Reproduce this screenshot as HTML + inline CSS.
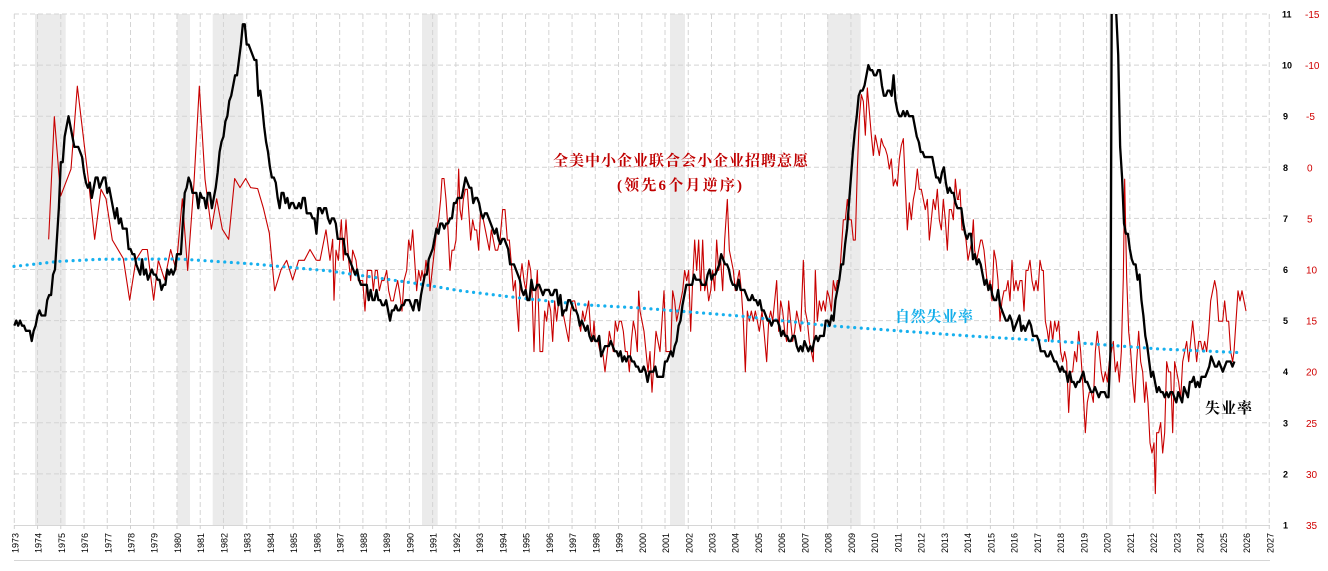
<!DOCTYPE html>
<html><head><meta charset="utf-8"><style>
html,body{margin:0;padding:0;background:#fff;}
svg{display:block;}
.yl{font-family:"Liberation Sans",sans-serif;font-size:9px;fill:#000;}
.rb{font-family:"Liberation Sans",sans-serif;font-size:9px;font-weight:bold;fill:#000;}
.rr{font-family:"Liberation Sans",sans-serif;font-size:10px;fill:#d00000;}
.cn{font-family:"Liberation Serif","Noto Serif CJK SC",serif;font-weight:bold;font-size:15px;}
</style></head><body>
<svg width="1328" height="571" viewBox="0 0 1328 571" xmlns="http://www.w3.org/2000/svg">
<defs><clipPath id="plot"><rect x="0" y="14" width="1328" height="511"/></clipPath></defs>
<rect width="1328" height="571" fill="#fff"/>
<!-- recessions -->
<g fill="#ebebeb">
<rect x="35" y="14" width="30.7" height="511"/>
<rect x="177.3" y="14" width="12.7" height="511"/>
<rect x="212.7" y="14" width="30.6" height="511"/>
<rect x="422" y="14" width="15.7" height="511"/>
<rect x="670" y="14" width="15" height="511"/>
<rect x="827.3" y="14" width="33.4" height="511"/>
<rect x="1109" y="14" width="3.7" height="511"/>
</g>
<!-- grid -->
<path fill="none" stroke="#d4d4d4" stroke-width="1" stroke-dasharray="5,3" d="M14 14H1270M14 65.1H1270M14 116.2H1270M14 167.3H1270M14 218.4H1270M14 269.5H1270M14 320.6H1270M14 371.7H1270M14 422.8H1270M14 473.9H1270
M14.3 14V525M37.54 14V525M60.78 14V525M84.02 14V525M107.26 14V525M130.5 14V525M153.74 14V525M176.98 14V525M200.22 14V525M223.46 14V525M246.7 14V525M269.94 14V525M293.18 14V525M316.42 14V525M339.66 14V525M362.9 14V525M386.14 14V525M409.38 14V525M432.62 14V525M455.86 14V525M479.1 14V525M502.34 14V525M525.58 14V525M548.82 14V525M572.06 14V525M595.3 14V525M618.54 14V525M641.78 14V525M665.02 14V525M688.26 14V525M711.5 14V525M734.74 14V525M757.98 14V525M781.22 14V525M804.46 14V525M827.7 14V525M850.94 14V525M874.18 14V525M897.42 14V525M920.66 14V525M943.9 14V525M967.14 14V525M990.38 14V525M1013.62 14V525M1036.86 14V525M1060.1 14V525M1083.34 14V525M1106.58 14V525M1129.82 14V525M1153.06 14V525M1176.3 14V525M1199.54 14V525M1222.78 14V525M1246.02 14V525M1269.26 14V525"/>
<!-- axis lines -->
<path d="M14 525.5H1270M14 560.5H1270" stroke="#d6d6d6" stroke-width="1" fill="none"/>
<path fill="none" stroke="#cfcfcf" stroke-width="1" d="M14.3 525V529M37.54 525V529M60.78 525V529M84.02 525V529M107.26 525V529M130.5 525V529M153.74 525V529M176.98 525V529M200.22 525V529M223.46 525V529M246.7 525V529M269.94 525V529M293.18 525V529M316.42 525V529M339.66 525V529M362.9 525V529M386.14 525V529M409.38 525V529M432.62 525V529M455.86 525V529M479.1 525V529M502.34 525V529M525.58 525V529M548.82 525V529M572.06 525V529M595.3 525V529M618.54 525V529M641.78 525V529M665.02 525V529M688.26 525V529M711.5 525V529M734.74 525V529M757.98 525V529M781.22 525V529M804.46 525V529M827.7 525V529M850.94 525V529M874.18 525V529M897.42 525V529M920.66 525V529M943.9 525V529M967.14 525V529M990.38 525V529M1013.62 525V529M1036.86 525V529M1060.1 525V529M1083.34 525V529M1106.58 525V529M1129.82 525V529M1153.06 525V529M1176.3 525V529M1199.54 525V529M1222.78 525V529M1246.02 525V529M1269.26 525V529"/>

<!-- red NFIB hiring plans -->
<g fill="none" stroke="#c80000" stroke-width="1.1" stroke-linejoin="round">
<polyline vector-effect="non-scaling-stroke" transform="matrix(0.33333 0 0 0.33807 0 0)" points="146,708 163,345 182,580 213,500 232,255 265,530 284,708 303,560 318,588 337,710 370,765 389,888 408,768 427,738 442,738 461,888 475,770 494,828 512,738 528,798 547,588 563,800 582,540 598,255 615,530 634,678 650,588 667,678 686,708 704,528 720,555 737,528 752,555 773,558 790,615 808,690 824,860 843,798 860,770 878,828 896,770 913,770 930,738 949,770"/>
<polyline vector-effect="non-scaling-stroke" transform="matrix(0.33333 0 0 0.33807 320 0)" points="-11,770 0,770 18,680 30,770 38,708 42,888 48,740 55,770 64,650 70,770 78,650 86,770 92,830 98,740 108,770 115,830 122,830 128,830 135,920 142,800 155,800 160,860 166,800 172,800 178,860 185,830 192,830 200,800 206,860 213,890 220,890 226,860 233,830 238,860 246,920 252,830 260,800 266,710 272,740 278,680 284,770 290,860 296,800 302,830 306,800 312,830 318,770 322,800 326,770 330,860 340,770 350,680 356,650 362,590 366,528 372,528 378,590 384,680 390,800 396,740 402,740 408,710 413,590 416,500 420,620 425,650 430,590 436,560 442,560 446,620 452,710 458,650 464,680 470,680 476,740 482,620 490,650 496,680 502,710 508,740 514,680 520,710 526,740 533,740 540,710 548,620 555,620 562,710 568,710 574,780 580,860 586,830 590,900 596,980 600,830 606,780 612,830 618,860 626,770 632,800 636,860 642,1040 648,860 652,800 656,920 660,1040 668,1040 674,920 680,950 686,890 692,920 698,1010 704,890 710,950 716,890 722,890 728,920 734,950 740,980 746,1010 752,920 758,890 764,890 770,920 776,950 782,980 788,920 794,950 800,920 806,890 812,980 818,1010 822,950 826,1010 834,1010 840,1040 848,1040 855,1100 862,1040 868,980 874,1010 880,1040 886,950 892,980 898,950 904,950 910,980 916,1040 922,1040 928,1100 934,1010 940,950 946,980 952,1040 956,860"/>
<polyline vector-effect="non-scaling-stroke" transform="matrix(0.33333 0 0 0.33807 640 0)" points="-4,860 0,920 6,950 12,980 18,1040 24,1100 30,1040 36,1160 42,1070 48,980 54,1010 60,1040 66,950 72,860 78,1040 84,1040 92,1040 98,860 104,890 110,950 116,920 122,890 128,860 134,800 140,830 146,800 152,980 158,830 164,710 170,800 176,710 182,860 188,710 194,860 200,830 206,890 212,860 218,800 224,860 230,710 236,800 242,770 248,860 254,710 262,590 268,740 274,770 280,800 286,860 292,830 298,800 304,860 310,950 316,1100 322,920 328,950 334,920 340,950 346,920 352,950 358,980 366,920 372,980 380,1070 386,950 392,920 398,950 404,890 410,830 416,980 422,890 428,920 434,980 440,1010 446,890 452,950 458,1010 464,980 470,920 476,950 482,980 490,770 496,920 502,950 508,1010 514,1040 520,1070 526,800 532,950 538,890 544,920 550,890 556,920 562,860 568,880 574,920 580,830 586,860 592,830 598,830 604,740 610,650 616,650 622,590 628,650 634,650 640,710 646,710 652,500 658,350 664,280 670,300 676,400 682,260 688,330 694,400 700,460 706,400 712,430 718,460 724,410 730,430 736,440 742,460 748,500 754,470 760,550 766,530 772,550 778,470 784,430 790,410 796,550 802,680 808,600 814,650 820,590 826,560 832,500 838,560 844,560 850,590 856,620 862,590 868,710 874,650 880,590 886,620 892,560 898,650 904,680 910,590 916,650 922,740 928,620 934,620 940,650 946,530 952,590 958,590"/>
<polyline vector-effect="non-scaling-stroke" transform="matrix(0.33333 0 0 0.33807 960 0)" points="-6,590 0,560 6,680 12,680 18,710 24,770 30,740 36,710 40,650 44,740 50,770 56,740 62,710 66,710 72,740 78,800 84,860 90,830 96,890 102,740 108,770 114,830 120,950 126,890 132,860 138,860 144,830 150,890 156,770 162,860 168,830 174,860 180,830 186,830 192,920 198,800 204,800 210,770 216,830 222,860 228,830 234,860 240,770 246,800 250,800 256,950 262,980 266,1010 272,950 278,1010 284,950 290,980 296,950 302,1040 308,1070 314,1040 320,1070 326,1220 332,1100 338,1100 344,1040 350,1070 356,980 362,1040 368,1130 376,1280 382,1190 388,1160 394,1160 400,1190 406,1040 412,980 418,1040 424,1100 430,1130 436,1100 442,1130 448,1070 454,1040 460,1010 466,1100 472,1070 478,1130 484,1040 490,820 494,530 500,820 506,980 512,1040 518,1130 524,1190 530,1070 536,980 542,1070 548,1100 554,1190 558,1130 564,1190 570,1310 576,1340 582,1310 586,1460 590,1280 596,1280 602,1250 608,1340 614,1280 620,1070 626,1100 632,1100 638,1280 644,1070 650,1100 656,1130 662,1180 668,1070 674,1040 680,1010 686,1070 692,1010 698,950 704,1010 710,1070 716,1010 722,1010 728,1040 734,1010 740,1040 746,980 752,890 758,860 764,830 770,860 776,950 782,950 788,950 794,890 800,950 806,950 812,1040 818,1070 822,1040 828,950 834,860 840,890 846,860 852,890 858,920"/>
</g>

<!-- natural rate dotted -->
<polyline fill="none" stroke="#16b0ee" stroke-width="3.2" stroke-linecap="round" stroke-dasharray="0 6.6" points="14,266.4 60,261.3 100,259.3 180,259 250,263.7 330,271 420,284 460,290.7 520,298 587,305 640,308 740,316 827,325.6 970,336 1060,341.5 1160,349 1240,352.6"/>

<!-- unemployment -->
<g clip-path="url(#plot)">
<polyline fill="none" stroke="#000" stroke-width="2.3" stroke-linejoin="round" vector-effect="non-scaling-stroke" transform="matrix(1.93667 0 0 -51.1 14.3 576.1)" points="0,4.9 1,5 2,4.9 3,5 4,4.9 5,4.9 6,4.8 7,4.8 8,4.8 9,4.6 10,4.8 11,4.9 12,5.1 13,5.2 14,5.1 15,5.1 16,5.1 17,5.4 18,5.5 19,5.5 20,5.9 21,6 22,6.6 23,7.2 24,8.1 25,8.1 26,8.6 27,8.8 28,9 29,8.8 30,8.6 31,8.4 32,8.4 33,8.4 34,8.3 35,8.2 36,7.9 37,7.7 38,7.6 39,7.7 40,7.4 41,7.6 42,7.8 43,7.8 44,7.6 45,7.7 46,7.8 47,7.8 48,7.5 49,7.6 50,7.4 51,7.2 52,7 53,7.2 54,6.9 55,7 56,6.8 57,6.8 58,6.8 59,6.4 60,6.4 61,6.3 62,6.3 63,6.1 64,6 65,5.9 66,6.2 67,5.9 68,6 69,5.8 70,5.9 71,6 72,5.9 73,5.9 74,5.8 75,5.8 76,5.6 77,5.7 78,5.7 79,6 80,5.9 81,6 82,5.9 83,6 84,6.3 85,6.3 86,6.3 87,6.9 88,7.5 89,7.6 90,7.8 91,7.7 92,7.5 93,7.5 94,7.5 95,7.2 96,7.5 97,7.4 98,7.4 99,7.2 100,7.5 101,7.5 102,7.2 103,7.4 104,7.6 105,7.9 106,8.3 107,8.5 108,8.6 109,8.9 110,9 111,9.3 112,9.4 113,9.6 114,9.8 115,9.8 116,10.1 117,10.4 118,10.8 119,10.8 120,10.4 121,10.4 122,10.3 123,10.2 124,10.1 125,10.1 126,9.4 127,9.5 128,9.2 129,8.8 130,8.5 131,8.3 132,8 133,7.8 134,7.8 135,7.7 136,7.4 137,7.2 138,7.5 139,7.5 140,7.3 141,7.4 142,7.2 143,7.3 144,7.3 145,7.2 146,7.2 147,7.3 148,7.2 149,7.4 150,7.4 151,7.1 152,7.1 153,7.1 154,7 155,7 156,6.7 157,7.2 158,7.2 159,7.1 160,7.2 161,7.2 162,7 163,6.9 164,7 165,7 166,6.9 167,6.6 168,6.6 169,6.6 170,6.6 171,6.3 172,6.3 173,6.2 174,6.1 175,6 176,5.9 177,6 178,5.8 179,5.7 180,5.7 181,5.7 182,5.7 183,5.4 184,5.6 185,5.4 186,5.4 187,5.6 188,5.4 189,5.4 190,5.3 191,5.3 192,5.4 193,5.2 194,5 195,5.2 196,5.2 197,5.3 198,5.2 199,5.2 200,5.3 201,5.3 202,5.4 203,5.4 204,5.4 205,5.3 206,5.2 207,5.4 208,5.4 209,5.2 210,5.5 211,5.7 212,5.9 213,5.9 214,6.2 215,6.3 216,6.4 217,6.6 218,6.8 219,6.7 220,6.9 221,6.9 222,6.8 223,6.9 224,6.9 225,7 226,7 227,7.3 228,7.3 229,7.4 230,7.4 231,7.4 232,7.6 233,7.8 234,7.7 235,7.6 236,7.6 237,7.3 238,7.4 239,7.4 240,7.3 241,7.1 242,7 243,7.1 244,7.1 245,7 246,6.9 247,6.8 248,6.7 249,6.8 250,6.6 251,6.5 252,6.6 253,6.6 254,6.5 255,6.4 256,6.1 257,6.1 258,6.1 259,6 260,5.9 261,5.8 262,5.6 263,5.5 264,5.6 265,5.4 266,5.4 267,5.8 268,5.6 269,5.6 270,5.7 271,5.7 272,5.6 273,5.5 274,5.6 275,5.6 276,5.6 277,5.5 278,5.5 279,5.6 280,5.6 281,5.3 282,5.5 283,5.1 284,5.2 285,5.2 286,5.4 287,5.4 288,5.3 289,5.2 290,5.2 291,5.1 292,4.9 293,5 294,4.9 295,4.8 296,4.9 297,4.7 298,4.6 299,4.7 300,4.6 301,4.6 302,4.7 303,4.3 304,4.4 305,4.5 306,4.5 307,4.5 308,4.6 309,4.5 310,4.4 311,4.4 312,4.3 313,4.4 314,4.2 315,4.3 316,4.2 317,4.3 318,4.3 319,4.2 320,4.2 321,4.1 322,4.1 323,4 324,4 325,4.1 326,4 327,3.8 328,4 329,4 330,4 331,4.1 332,3.9 333,3.9 334,3.9 335,3.9 336,4.2 337,4.2 338,4.3 339,4.4 340,4.3 341,4.5 342,4.6 343,4.9 344,5 345,5.3 346,5.5 347,5.7 348,5.7 349,5.7 350,5.7 351,5.9 352,5.8 353,5.8 354,5.8 355,5.7 356,5.7 357,5.7 358,5.9 359,6 360,5.8 361,5.9 362,5.9 363,6 364,6.1 365,6.3 366,6.2 367,6.1 368,6.1 369,6 370,5.8 371,5.7 372,5.7 373,5.6 374,5.8 375,5.6 376,5.6 377,5.6 378,5.5 379,5.4 380,5.4 381,5.5 382,5.4 383,5.4 384,5.3 385,5.4 386,5.2 387,5.2 388,5.1 389,5 390,5 391,4.9 392,5 393,5 394,5 395,4.9 396,4.7 397,4.8 398,4.7 399,4.7 400,4.6 401,4.6 402,4.7 403,4.7 404,4.5 405,4.4 406,4.5 407,4.4 408,4.6 409,4.5 410,4.4 411,4.5 412,4.4 413,4.6 414,4.7 415,4.6 416,4.7 417,4.7 418,4.7 419,5 420,5 421,4.9 422,5.1 423,5 424,5.4 425,5.6 426,5.8 427,6.1 428,6.1 429,6.5 430,6.8 431,7.3 432,7.8 433,8.3 434,8.7 435,9 436,9.4 437,9.5 438,9.5 439,9.6 440,9.8 441,10 442,9.9 443,9.9 444,9.8 445,9.8 446,9.9 447,9.9 448,9.6 449,9.4 450,9.4 451,9.5 452,9.5 453,9.4 454,9.8 455,9.3 456,9.1 457,9 458,9 459,9.1 460,9 461,9.1 462,9 463,9 464,9 465,8.8 466,8.6 467,8.5 468,8.3 469,8.3 470,8.2 471,8.2 472,8.2 473,8.2 474,8.2 475,8 476,7.8 477,7.8 478,7.7 479,7.9 480,8 481,7.7 482,7.5 483,7.6 484,7.5 485,7.5 486,7.3 487,7.2 488,7.2 489,7.2 490,6.9 491,6.7 492,6.6 493,6.7 494,6.7 495,6.2 496,6.3 497,6.1 498,6.2 499,6.1 500,5.9 501,5.7 502,5.8 503,5.6 504,5.7 505,5.5 506,5.4 507,5.4 508,5.6 509,5.3 510,5.2 511,5.1 512,5 513,5 514,5.1 515,5 516,4.8 517,4.9 518,5 519,5.1 520,4.8 521,4.9 522,4.8 523,4.9 524,5 525,4.9 526,4.7 527,4.7 528,4.7 529,4.6 530,4.4 531,4.4 532,4.4 533,4.3 534,4.3 535,4.4 536,4.3 537,4.2 538,4.2 539,4.1 540,4 541,4.1 542,4 543,4 544,3.8 545,4 546,3.8 547,3.8 548,3.7 549,3.8 550,3.8 551,3.9 552,4 553,3.8 554,3.8 555,3.7 556,3.6 557,3.6 558,3.7 559,3.6 560,3.5 561,3.6 562,3.6 563,3.6 564,3.5 565,3.5 566,4.4 567,14.8 568,13.2 569,11 570,10.2 571,8.4 572,7.8 573,6.9 574,6.7 575,6.7 576,6.4 577,6.2 578,6.1 579,6.1 580,5.8 581,5.9 582,5.4 583,5.1 584,4.7 585,4.5 586,4.2 587,3.9 588,4 589,3.8 590,3.6 591,3.7 592,3.6 593,3.6 594,3.5 595,3.6 596,3.5 597,3.6 598,3.6 599,3.5 600,3.4 601,3.6 602,3.5 603,3.4 604,3.7 605,3.6 606,3.5 607,3.8 608,3.8 609,3.9 610,3.7 611,3.8 612,3.7 613,3.9 614,3.9 615,3.9 616,4 617,4.1 618,4.3 619,4.2 620,4.1 621,4.1 622,4.2 623,4.1 624,4 625,4.1 626,4.2 627,4.2 628,4.2 629,4.1 630,4.2"/>
</g>

<!-- annotations -->
<text class="cn" x="553" y="165.5" fill="#c00000" textLength="255" lengthAdjust="spacing">全美中小企业联合会小企业招聘意愿</text>
<text class="cn" x="617" y="190" fill="#c00000" textLength="125" lengthAdjust="spacing">(领先6个月逆序)</text>
<text class="cn" x="895" y="321.5" fill="#12aeea" textLength="78" lengthAdjust="spacing">自然失业率</text>
<text class="cn" x="1205" y="413" fill="#000" textLength="47" lengthAdjust="spacing">失业率</text>

<!-- right axis labels -->
<g class="rb">
<text x="1282" y="17.5">11</text><text x="1282" y="68.6">10</text><text x="1283" y="119.7">9</text><text x="1283" y="170.8">8</text><text x="1283" y="221.9">7</text><text x="1283" y="273">6</text><text x="1283" y="324.1">5</text><text x="1283" y="375.2">4</text><text x="1283" y="426.3">3</text><text x="1283" y="477.4">2</text><text x="1283" y="528.5">1</text>
</g>
<g class="rr">
<text x="1305" y="18">-15</text><text x="1305" y="69.1">-10</text><text x="1306" y="120.2">-5</text><text x="1307" y="171.3">0</text><text x="1307" y="222.4">5</text><text x="1306" y="273.5">10</text><text x="1306" y="324.6">15</text><text x="1306" y="375.7">20</text><text x="1306" y="426.8">25</text><text x="1306" y="477.9">30</text><text x="1306" y="529">35</text>
</g>

<!-- year labels -->
<g class="yl" text-anchor="end">
<text transform="translate(18.3,533) rotate(-90)">1973</text>
<text transform="translate(41.54,533) rotate(-90)">1974</text>
<text transform="translate(64.78,533) rotate(-90)">1975</text>
<text transform="translate(88.02,533) rotate(-90)">1976</text>
<text transform="translate(111.26,533) rotate(-90)">1977</text>
<text transform="translate(134.5,533) rotate(-90)">1978</text>
<text transform="translate(157.74,533) rotate(-90)">1979</text>
<text transform="translate(180.98,533) rotate(-90)">1980</text>
<text transform="translate(204.22,533) rotate(-90)">1981</text>
<text transform="translate(227.46,533) rotate(-90)">1982</text>
<text transform="translate(250.7,533) rotate(-90)">1983</text>
<text transform="translate(273.94,533) rotate(-90)">1984</text>
<text transform="translate(297.18,533) rotate(-90)">1985</text>
<text transform="translate(320.42,533) rotate(-90)">1986</text>
<text transform="translate(343.66,533) rotate(-90)">1987</text>
<text transform="translate(366.9,533) rotate(-90)">1988</text>
<text transform="translate(390.14,533) rotate(-90)">1989</text>
<text transform="translate(413.38,533) rotate(-90)">1990</text>
<text transform="translate(436.62,533) rotate(-90)">1991</text>
<text transform="translate(459.86,533) rotate(-90)">1992</text>
<text transform="translate(483.1,533) rotate(-90)">1993</text>
<text transform="translate(506.34,533) rotate(-90)">1994</text>
<text transform="translate(529.58,533) rotate(-90)">1995</text>
<text transform="translate(552.82,533) rotate(-90)">1996</text>
<text transform="translate(576.06,533) rotate(-90)">1997</text>
<text transform="translate(599.3,533) rotate(-90)">1998</text>
<text transform="translate(622.54,533) rotate(-90)">1999</text>
<text transform="translate(645.78,533) rotate(-90)">2000</text>
<text transform="translate(669.02,533) rotate(-90)">2001</text>
<text transform="translate(692.26,533) rotate(-90)">2002</text>
<text transform="translate(715.5,533) rotate(-90)">2003</text>
<text transform="translate(738.74,533) rotate(-90)">2004</text>
<text transform="translate(761.98,533) rotate(-90)">2005</text>
<text transform="translate(785.22,533) rotate(-90)">2006</text>
<text transform="translate(808.46,533) rotate(-90)">2007</text>
<text transform="translate(831.7,533) rotate(-90)">2008</text>
<text transform="translate(854.94,533) rotate(-90)">2009</text>
<text transform="translate(878.18,533) rotate(-90)">2010</text>
<text transform="translate(901.42,533) rotate(-90)">2011</text>
<text transform="translate(924.66,533) rotate(-90)">2012</text>
<text transform="translate(947.9,533) rotate(-90)">2013</text>
<text transform="translate(971.14,533) rotate(-90)">2014</text>
<text transform="translate(994.38,533) rotate(-90)">2015</text>
<text transform="translate(1017.62,533) rotate(-90)">2016</text>
<text transform="translate(1040.86,533) rotate(-90)">2017</text>
<text transform="translate(1064.1,533) rotate(-90)">2018</text>
<text transform="translate(1087.34,533) rotate(-90)">2019</text>
<text transform="translate(1110.58,533) rotate(-90)">2020</text>
<text transform="translate(1133.82,533) rotate(-90)">2021</text>
<text transform="translate(1157.06,533) rotate(-90)">2022</text>
<text transform="translate(1180.3,533) rotate(-90)">2023</text>
<text transform="translate(1203.54,533) rotate(-90)">2024</text>
<text transform="translate(1226.78,533) rotate(-90)">2025</text>
<text transform="translate(1250.02,533) rotate(-90)">2026</text>
<text transform="translate(1273.26,533) rotate(-90)">2027</text>
</g>
</svg>
</body></html>
